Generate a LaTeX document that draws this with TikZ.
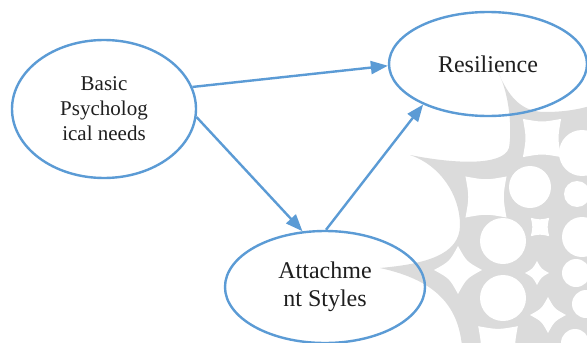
\documentclass[tikz,border=0pt]{standalone}
\usepackage{fontspec}
\setmainfont{Liberation Serif}
\usetikzlibrary{shapes.geometric,arrows.meta,calc}
\definecolor{edgeblue}{HTML}{5B9BD5}
\definecolor{txt}{HTML}{1F1F1F}
\definecolor{wm}{HTML}{DBDBDB}
\tikzset{
  concept/.style={ellipse, draw=edgeblue, line width=2.4pt, fill=none, inner sep=0pt, align=center, text=txt},
  link/.style={draw=edgeblue, line width=2.4pt, -{Triangle[length=17pt,width=13pt]}},
  hole/.style={fill=white},
}
% concave-sided hole: centre x, centre y, corner radius, rotation, concavity factor
\newcommand\cchole[5]{%
  \fill[hole] ($(#1,#2)+(#4:#3)$)
    .. controls ($(#1,#2)+(#4+45:#5*#3)$) .. ($(#1,#2)+(#4+90:#3)$)
    .. controls ($(#1,#2)+(#4+135:#5*#3)$) .. ($(#1,#2)+(#4+180:#3)$)
    .. controls ($(#1,#2)+(#4+225:#5*#3)$) .. ($(#1,#2)+(#4+270:#3)$)
    .. controls ($(#1,#2)+(#4+315:#5*#3)$) .. cycle;}
\begin{document}
\begin{tikzpicture}[x=1pt,y=-1pt]
\useasboundingbox (0,0) rectangle (587,343);
\fill[white] (0,0) rectangle (587,343);
% watermark ornament (background decoration)
\begin{scope}
\clip (0,0) rectangle (587,343);
\fill[wm] (380,268) .. controls (425,264) and (460,255) .. (460,225)
  .. controls (460,195) and (440,165) .. (410,155)
  .. controls (455,164) and (503,166) .. (509,148)
  .. controls (512,130) and (510,95) .. (498,72)
  .. controls (508,95) and (520,112) .. (545,112)
  .. controls (565,112) and (580,109) .. (590,106)
  -- (590,346) -- (462,346)
  .. controls (458,305) and (435,280) .. (380,268) -- cycle;
\cchole{486}{197}{29}{45}{0.58}
\cchole{542}{138}{27}{45}{0.58}
\cchole{540}{227}{13}{45}{0.55}
\cchole{458}{270}{24}{0}{0.5}
\cchole{537}{273}{12}{0}{0.5}
\cchole{548}{315}{18}{0}{0.5}
\cchole{498}{346}{28}{45}{0.58}
\fill[hole] (530,187) circle (21);
\fill[hole] (503,241) circle (23);
\fill[hole] (503,298) circle (23);
\fill[hole] (582,153) circle (23);
\fill[hole] (577,194) circle (13);
\fill[hole] (582,237) circle (20);
\fill[hole] (576,273) circle (14);
\fill[hole] (586,304) circle (14);
\fill[hole] (575,343) circle (14);
\end{scope}
% nodes
\node[concept, minimum width=184pt, minimum height=138pt, font=\fontsize{21}{25}\selectfont] (basic) at (104,109) {Basic\\Psycholog\\ical needs};
\node[concept, minimum width=198pt, minimum height=104pt, font=\fontsize{24}{28}\selectfont] (res) at (488,64) {Resilience};
\node[concept, minimum width=200pt, minimum height=112pt, font=\fontsize{24}{28}\selectfont] (att) at (325,287) {Attachme\\nt Styles};
% connectors
\draw[link] (basic.14) -- (res.181);
\draw[link] (basic.-5) -- (att.112);
\draw[link] (att.89) -- (res.212);
\end{tikzpicture}
\end{document}
